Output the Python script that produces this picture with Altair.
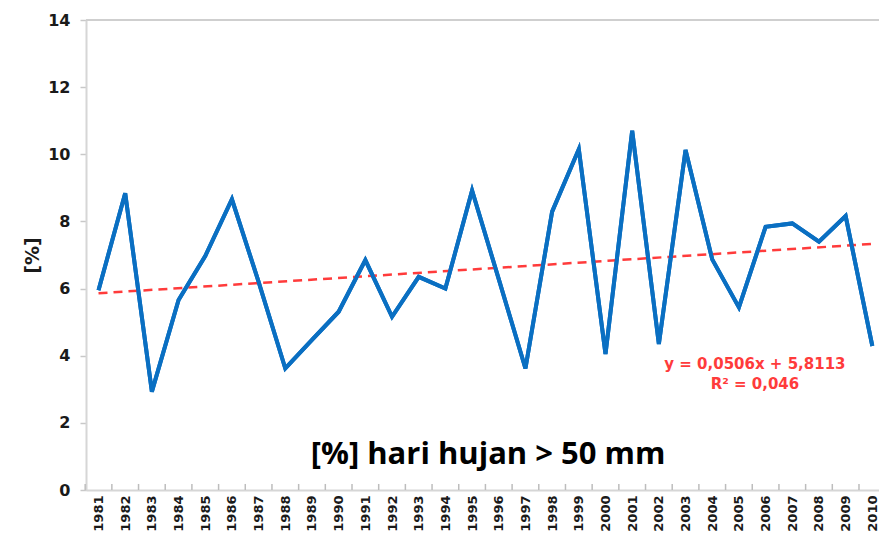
import altair as alt
import pandas as pd

years = list(range(1981, 2011))
values = [5.95, 8.84, 2.93, 5.66, 6.97, 8.66, 6.2, 3.62, 4.47, 5.31,
          6.85, 5.16, 6.35, 6.0, 8.92, 6.28, 3.62, 8.29, 10.15, 4.05,
          10.70, 4.35, 10.13, 6.87, 5.44, 7.84, 7.94, 7.40, 8.16, 4.29]

trend_years = [1981, 2010]
trend_vals = [5.86, 7.33]

tick_pos = [y + 0.5 for y in range(1980, 2011)]
y_ticks = [0, 2, 4, 6, 8, 10, 12, 14]

title_text = "[%] hari hujan > 50 mm"
eq_lines = ["y = 0,0506x + 5,8113", "R² = 0,046"]

df = pd.DataFrame({"year": years, "value": values})
trend_df = pd.DataFrame({"year": trend_years, "value": trend_vals})
ticks_df = pd.DataFrame({"year": tick_pos, "value": [0.0] * len(tick_pos),
                         "value2": [0.18] * len(tick_pos)})

xscale = alt.Scale(domain=[1980.531, 2010.25], nice=False, zero=False)
yscale = alt.Scale(domain=[0, 14], nice=False)

x_axis = alt.Axis(values=years, format="d", title=None)
y_axis = alt.Axis(values=y_ticks, title="[%]")

X = alt.X("year:Q", scale=xscale, axis=x_axis)
Y = alt.Y("value:Q", scale=yscale, axis=y_axis)

top_rule = alt.Chart(pd.DataFrame({"value": [14]})).mark_rule(
    color="#cfcfcf", strokeWidth=2).encode(y=Y)

bottom_ticks = alt.Chart(ticks_df).mark_rule(color="#bdbdbd", strokeWidth=1.5).encode(
    x=X, y=Y, y2="value2:Q",
)

trend = alt.Chart(trend_df).mark_line(color="#ff3b3b", strokeWidth=2.5,
                                      strokeDash=[9, 6]).encode(x=X, y=Y)

blue_line = alt.Chart(df).mark_line(color="#0a6fc2", strokeWidth=4,
                                    strokeJoin="miter").encode(x=X, y=Y)

eq_df = pd.DataFrame({"year": [2005.6, 2005.6], "value": [3.75, 3.16], "t": eq_lines})
eq_text = alt.Chart(eq_df).mark_text(font="DejaVu Sans", fontWeight="bold",
                                     fontSize=15, color="#ff3b3b").encode(
    x=X, y=Y, text="t:N")

title_df = pd.DataFrame({"year": [1995.6], "value": [1.04], "t": [title_text]})
title_mark = alt.Chart(title_df).mark_text(font="Open Sans", fontWeight="bold",
                                           fontSize=31, color="#000000").encode(
    x=X, y=Y, text="t:N")

chart = alt.layer(
    blue_line, top_rule, bottom_ticks, trend, blue_line, eq_text, title_mark
).properties(
    width=793, height=470,
    padding={"left": 78, "top": 12, "right": 0, "bottom": 42},
    autosize=alt.AutoSizeParams(type="none"),
).configure_view(stroke=None).configure(background="white").configure_axisX(
    labelAngle=270, ticks=False,
    labelFont="DejaVu Sans", labelFontWeight="bold", labelFontSize=13,
    labelColor="#1a1a1a", labelPadding=5, domainColor="#d6d6d6",
    domainWidth=2, grid=False, labelAlign="right",
    labelBaseline="middle", labelOverlap=False, labelBound=False,
    labelFlush=False,
).configure_axisY(
    titleFont="DejaVu Sans",
    titleFontWeight="bold", titleFontSize=19, titleColor="#1a1a1a",
    titlePadding=5, labelFont="DejaVu Sans", labelFontWeight="bold",
    labelFontSize=16, labelColor="#1a1a1a", labelPadding=10,
    tickSize=6, tickColor="#c8c8c8", tickWidth=1.5,
    domainColor="#d6d6d6", domainWidth=2, grid=False,
    labelOverlap=False,
)

chart.save("out.html", embed_options={"renderer": "svg", "actions": False})
